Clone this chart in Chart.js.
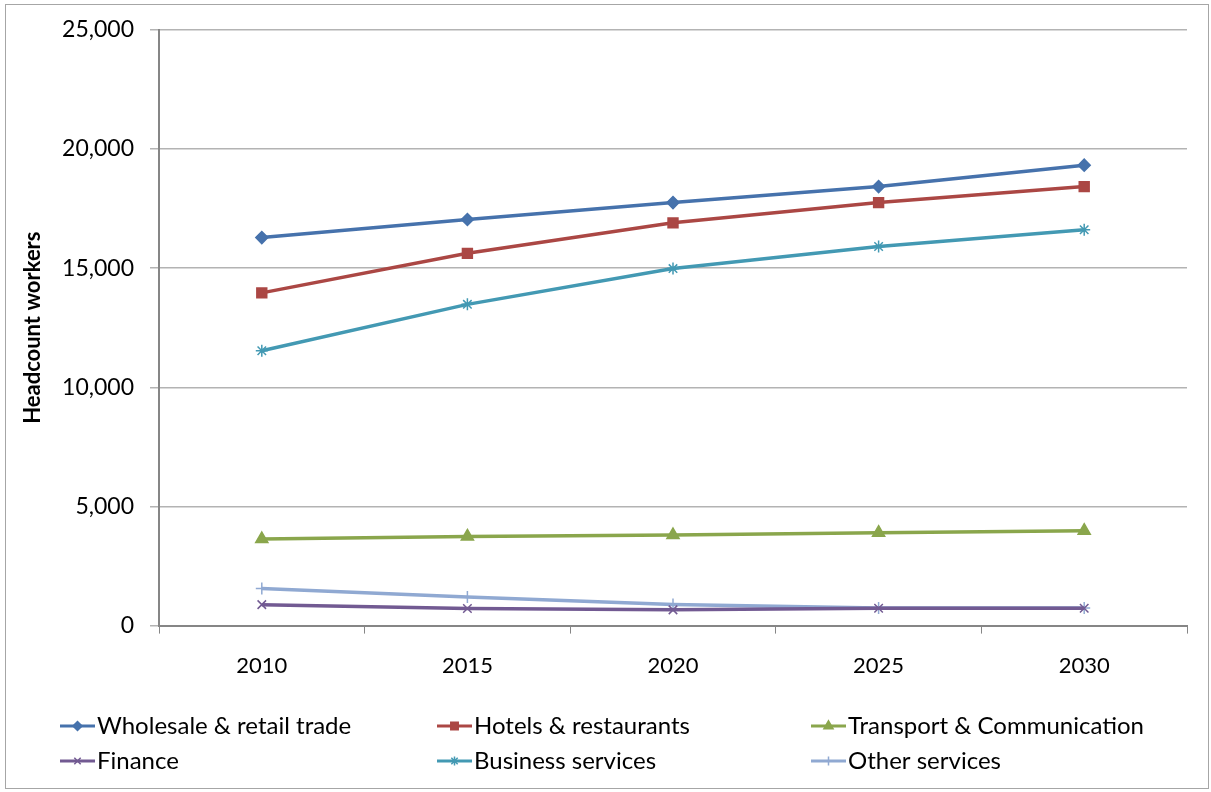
<!DOCTYPE html>
<html>
<head>
<meta charset="utf-8">
<script src="https://cdn.jsdelivr.net/npm/chart.js@4"></script>
<style>
  html, body { margin: 0; padding: 0; background: #ffffff; }
  #frame { position: absolute; left: 5px; top: 4px; width: 1202px; height: 783px; border: 1px solid #a6a6a6; }
  #wrap { position: absolute; left: 0; top: 0; width: 1211px; height: 792px; }
</style>
</head>
<body>
<div id="frame"></div>
<div id="wrap"><canvas id="c" width="1211" height="792"></canvas></div>
<script>
// Projected headcount by sector
const years = ['2010', '2015', '2020', '2025', '2030'];
const wholesale = [16280, 17040, 17750, 18420, 19320];
const hotels = [13960, 15620, 16900, 17750, 18420];
const transport = [3630, 3740, 3800, 3900, 3980];
const finance = [880, 720, 660, 730, 730];
const business = [11530, 13480, 14980, 15910, 16610];
const other = [1560, 1200, 890, 740, 740];
const yTicks = [0, 5000, 10000, 15000, 20000, 25000];

const FONT = 'Lato, "Open Sans", sans-serif';

const series = [
  { label: 'Wholesale & retail trade', data: wholesale, color: '#4672ac', style: 'rectRot', r: 6 },
  { label: 'Hotels & restaurants', data: hotels, color: '#ab4744', style: 'rect', r: 7 },
  { label: 'Transport & Communication', data: transport, color: '#8aa64c', style: 'triangle', r: 7 },
  { label: 'Finance', data: finance, color: '#725a92', style: 'crossRot', r: 6 },
  { label: 'Business services', data: business, color: '#4399b3', style: 'star', r: 6 },
  { label: 'Other services', data: other, color: '#90a9d2', style: 'cross', r: 6 }
];

// Three-column legend drawn under the plot
const legendPlugin = {
  id: 'gridLegend',
  afterDraw(chart) {
    const ctx = chart.ctx;
    const cols = [60, 437, 811];
    const rows = [726, 761];
    ctx.save();
    chart.data.datasets.forEach((ds, i) => {
      const x = cols[i % 3];
      const y = rows[Math.floor(i / 3)];
      ctx.strokeStyle = ds.borderColor;
      ctx.fillStyle = ds.borderColor;
      ctx.lineWidth = 3;
      ctx.beginPath();
      ctx.moveTo(x, y);
      ctx.lineTo(x + 35, y);
      ctx.stroke();
      ctx.lineWidth = 1.5;
      Chart.helpers.drawPoint(ctx, {
        pointStyle: ds.pointStyle,
        radius: ds.pointRadius * 0.75,
        borderWidth: 1.5
      }, x + 17.5, y);
      ctx.fillStyle = '#000000';
      ctx.font = '24px ' + FONT;
      ctx.textBaseline = 'middle';
      ctx.textAlign = 'left';
      ctx.fillText(ds.label, x + 37, y);
    });
    ctx.restore();
  }
};

new Chart(document.getElementById('c'), {
  type: 'line',
  data: {
    labels: years,
    datasets: series.map(s => ({
      label: s.label,
      data: s.data,
      borderColor: s.color,
      backgroundColor: s.color,
      pointBackgroundColor: s.color,
      pointBorderColor: s.color,
      pointStyle: s.style,
      pointRadius: s.r,
      pointBorderWidth: 1.5,
      borderWidth: 3.5,
      tension: 0,
      fill: false
    }))
  },
  options: {
    responsive: false,
    animation: false,
    events: [],
    layout: { padding: { left: 20, right: 24, top: 18, bottom: 94 } },
    plugins: { legend: { display: false }, tooltip: { enabled: false } },
    scales: {
      x: {
        type: 'category',
        offset: true,
        grid: { display: true, offset: true, drawOnChartArea: false, drawTicks: true, tickLength: 8, color: '#868686' },
        border: { display: true, color: '#868686', width: 2 },
        ticks: { color: '#000000', font: { family: FONT, size: 22 }, padding: 19 }
      },
      y: {
        min: 0,
        max: 25000,
        afterBuildTicks(scale) { scale.ticks = yTicks.map(v => ({ value: v })); },
        afterFit(scale) { scale.width = 139; },
        grid: { color: '#b3b3b3', lineWidth: 1.5, tickLength: 9, drawTicks: true },
        border: { display: true, color: '#868686', width: 2 },
        ticks: {
          color: '#000000',
          font: { family: FONT, size: 23 },
          padding: 16,
          callback: v => v.toLocaleString('en-US')
        },
        title: {
          display: true,
          text: 'Headcount workers',
          color: '#000000',
          font: { family: FONT, size: 22, weight: 'bold' },
          padding: { top: 0, bottom: 4 }
        }
      }
    }
  },
  plugins: [legendPlugin]
});
</script>
</body>
</html>
